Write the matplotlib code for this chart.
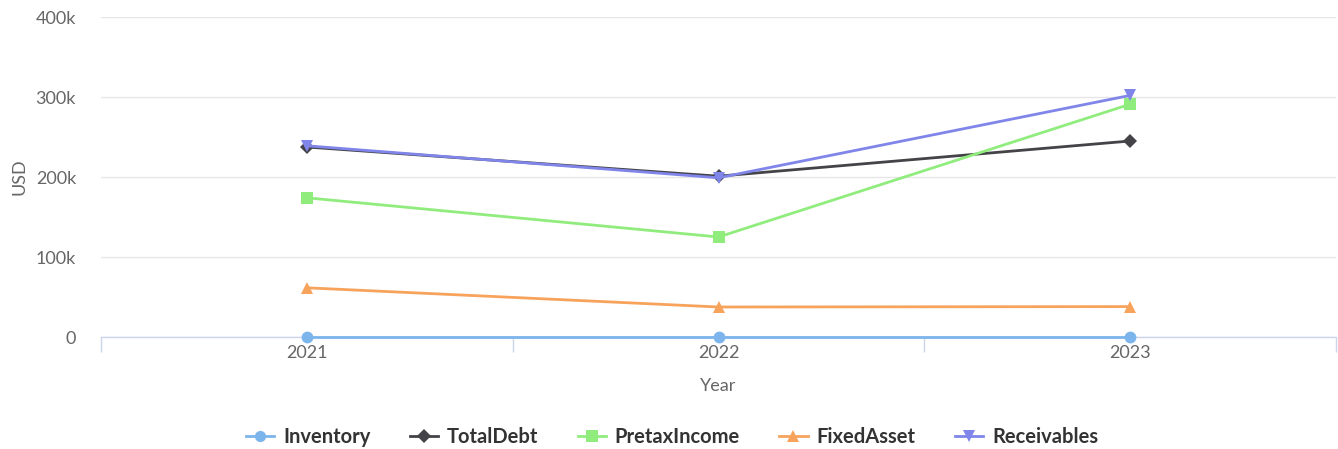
import matplotlib
matplotlib.use("Agg")
import matplotlib.pyplot as plt
from matplotlib.lines import Line2D

plt.rcParams['font.family'] = ['Lato', 'DejaVu Sans']

years = ["2021", "2022", "2023"]
inventory = [0, 0, 0]
total_debt = [237500, 201000, 245000]
pretax_income = [174000, 125000, 291000]
fixed_asset = [61500, 37500, 38000]
receivables = [239000, 199000, 302000]

series = [
    ("Inventory", inventory, "#7cb5ec", "o", 8.5),
    ("TotalDebt", total_debt, "#434348", "D", 7),
    ("PretaxIncome", pretax_income, "#90ed7d", "s", 8.5),
    ("FixedAsset", fixed_asset, "#f7a35c", "^", 9),
    ("Receivables", receivables, "#8085e9", "v", 9),
]

W, H = 1338, 449
fig = plt.figure(figsize=(W / 100, H / 100), dpi=100)
ax = fig.add_axes([101 / W, (H - 337) / H, (1336 - 101) / W, 320 / H])

x = list(range(len(years)))
for name, vals, color, marker, ms in series:
    ax.plot(x, vals, color=color, lw=2, marker=marker, markersize=ms,
            markeredgewidth=0, label=name, zorder=3, clip_on=False)

ax.set_xlim(-0.5, len(years) - 0.5)
ax.set_ylim(0, 400000)
ax.set_yticks([0, 100000, 200000, 300000, 400000])
ax.set_yticklabels(["0", "100k", "200k", "300k", "400k"])
ax.set_xticks(x)
ax.set_xticklabels(years)
ax.set_xticks([-0.5, 0.5, 1.5, 2.5], minor=True)

ax.grid(axis='y', color='#e6e6e6', lw=1)
ax.set_axisbelow(True)
for s in ['top', 'right', 'left']:
    ax.spines[s].set_visible(False)
ax.spines['bottom'].set_color('#ccd6eb')
ax.spines['bottom'].set_linewidth(1)
ax.spines['bottom'].set_zorder(2)

ax.tick_params(axis='y', length=0, labelsize=13, labelcolor='#666666', pad=18)
ax.tick_params(axis='x', which='major', length=0, labelsize=13, labelcolor='#666666', pad=6)
ax.tick_params(axis='x', which='minor', length=11, color='#ccd6eb', width=1)

ax.set_ylabel("USD", fontsize=13, color='#666666', labelpad=6)
ax.set_xlabel("Year", fontsize=13, color='#666666', labelpad=12)

handles = [Line2D([0], [0], color=c, lw=2, marker=m, markersize=ms * 0.95, markeredgewidth=0)
           for _, _, c, m, ms in series]
labels = [n for n, _, _, _, _ in series]
leg = fig.legend(handles, labels, loc='center', bbox_to_anchor=(672 / W, 1 - 437 / H),
                 ncol=5, frameon=False, handlelength=1.4, columnspacing=1.95,
                 handletextpad=0.45, prop={'weight': 'bold', 'size': 14.5})
for t in leg.get_texts():
    t.set_color('#333333')

fig.savefig("out.png", dpi=100)
